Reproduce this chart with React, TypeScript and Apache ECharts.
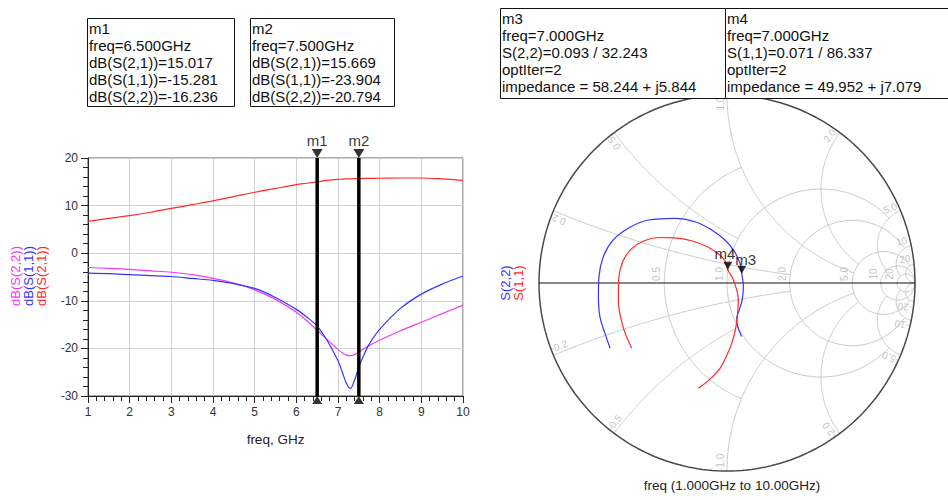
import React, { useEffect, useRef } from "react";
import * as echarts from "echarts";

const FONT = '"Liberation Sans", Arial, sans-serif';

// ---------- Left chart data (dB vs GHz) ----------
const freqGHz = [1, 1.5, 2, 2.5, 3, 3.5, 4, 4.5, 5, 5.5, 6, 6.25, 6.5, 6.75, 7, 7.1, 7.2, 7.3, 7.4, 7.5, 7.6, 7.75, 8, 8.5, 9, 9.5, 10];
const dbS21 = [6.7, 7.3, 7.9, 8.6, 9.4, 10.2, 11.0, 11.9, 12.8, 13.6, 14.4, 14.7, 15.0, 15.3, 15.5, 15.55, 15.6, 15.63, 15.65, 15.67, 15.7, 15.72, 15.75, 15.8, 15.8, 15.6, 15.3];
const dbS11 = [-4.2, -4.3, -4.5, -4.7, -4.9, -5.3, -5.7, -6.4, -7.4, -9.3, -11.8, -13.4, -15.3, -18.5, -22.6, -24.9, -27.3, -28.4, -26.6, -23.9, -21.8, -19.1, -16.0, -11.6, -8.6, -6.5, -4.8];
const dbS22 = [-3.0, -3.2, -3.4, -3.7, -4.0, -4.5, -5.3, -6.3, -7.7, -9.7, -12.4, -14.2, -16.2, -18.2, -20.2, -20.9, -21.4, -21.5, -21.3, -20.8, -20.2, -19.4, -18.3, -16.3, -14.5, -12.7, -10.9];
const markerFreqs = [6.5, 7.5];
const markerNames = ["m1", "m2"];
const yMin = -30;
const yMax = 20;

// ---------- Smith chart data (reflection coefficient, re / im) ----------
const s22Gamma = [
  [-0.622, -0.347], [-0.649, -0.268], [-0.676, -0.179], [-0.684, -0.073], [-0.681, 0.034],
  [-0.658, 0.14], [-0.605, 0.229], [-0.525, 0.291], [-0.419, 0.335], [-0.277, 0.344],
  [-0.17, 0.326], [-0.081, 0.282], [-0.011, 0.229], [0.034, 0.176], [0.069, 0.105],
  [0.0787, 0.0496], [0.087, -0.02], [0.081, -0.09], [0.065, -0.144], [0.052, -0.188],
  [0.057, -0.232], [0.078, -0.285],
];
const s11Gamma = [
  [-0.507, -0.347], [-0.553, -0.232], [-0.578, -0.09], [-0.576, 0.02], [-0.556, 0.11],
  [-0.51, 0.18], [-0.44, 0.225], [-0.36, 0.242], [-0.277, 0.24], [-0.18, 0.222],
  [-0.099, 0.19], [-0.04, 0.15], [-0.011, 0.118], [0.0045, 0.0709], [0.034, 0.016],
  [0.06, -0.09], [0.055, -0.18], [0.04, -0.27], [0.016, -0.345], [-0.037, -0.454],
  [-0.095, -0.515], [-0.152, -0.56],
];
const smithMarkerNames = ["m4", "m3"];
const smithMarkerMag = [0.071, 0.093];
const smithMarkerAngDeg = [86.337, 32.243];

// Smith grid definition
const smithR = [0.5, 1, 2, 5, 10, 20];
const smithRLimitX = [1, 5, 10, 20, Infinity, Infinity];
const smithRLabels = ["0.5", "1.0", "2.0", "5.0", "10", "20"];
const smithX = [0.2, 0.5, 1, 2, 5, 10, 20];
const smithXLimitR = [2, 1, 5, 5, 10, 20, Infinity];
const smithXLabels = ["0.2", "0.5", "1.0", "2.0", "5.0", "10", "20"];

// ---------- marker text boxes ----------
const boxM1 = ["m1", "freq=6.500GHz", "dB(S(2,1))=15.017", "dB(S(1,1))=-15.281", "dB(S(2,2))=-16.236"];
const boxM2 = ["m2", "freq=7.500GHz", "dB(S(2,1))=15.669", "dB(S(1,1))=-23.904", "dB(S(2,2))=-20.794"];
const boxM3 = ["m3", "freq=7.000GHz", "S(2,2)=0.093 / 32.243", "optIter=2", "impedance = 58.244 + j5.844"];
const boxM4 = ["m4", "freq=7.000GHz", "S(1,1)=0.071 / 86.337", "optIter=2", "impedance = 49.952 + j7.079"];

const RED = "#ff2a2a";
const BLUE = "#3434ff";
const MAGENTA = "#f03cf0";
const GRIDGRAY = "#c9c9c9";
const SMITH_R_PX = 188;

function rCirclePts(r: number, xMax: number) {
  const aMax = isFinite(xMax) ? Math.atan(xMax / (r + 1)) : Math.PI / 2;
  const n = 240;
  const pts: number[][] = [];
  for (let i = 0; i <= n; i++) {
    const a = -aMax + (2 * aMax * i) / n;
    const c = Math.cos(a), s = Math.sin(a);
    pts.push([1 - (2 * c * c) / (r + 1), (2 * c * s) / (r + 1)]);
  }
  return pts;
}

function xArcPts(x: number, rMax: number) {
  const a0 = Math.atan(x);
  const a1 = isFinite(rMax) ? Math.atan(x / (rMax + 1)) : 0;
  const n = 200;
  const pts: number[][] = [];
  for (let i = 0; i <= n; i++) {
    const a = a0 + ((a1 - a0) * i) / n;
    const c = Math.cos(a), s = Math.sin(a);
    pts.push([1 - (2 * s * c) / x, (2 * s * s) / x]);
  }
  return pts;
}

function box(x: number, y: number, w: number, h: number, lines: string[]) {
  return [
    { type: "rect", z: 100, shape: { x: x + 0.5, y: y + 0.5, width: w, height: h }, style: { fill: "#fff", stroke: "#111", lineWidth: 1 } },
    {
      type: "text", z: 101, x: x + 2, y: y + 1.5,
      style: { text: lines.join("\n"), fontSize: 15, fontFamily: FONT, fill: "#111", lineHeight: 17, align: "left", verticalAlign: "top" },
    },
  ];
}

function buildOption() {
  const series: any[] = [];

  // Left chart curves
  const curve = (name: string, vals: number[], color: string) => ({
    type: "line", name, xAxisIndex: 0, yAxisIndex: 0, symbol: "none", smooth: 0.3,
    data: freqGHz.map((f, i) => [f, vals[i]]), lineStyle: { color, width: 1.2 }, z: 3,
  });
  series.push(curve("dB(S(2,1))", dbS21, RED));
  series.push(curve("dB(S(2,2))", dbS22, MAGENTA));
  series.push(curve("dB(S(1,1))", dbS11, BLUE));

  // markers m1, m2
  markerFreqs.forEach((f, i) => {
    series.push({
      type: "line", xAxisIndex: 0, yAxisIndex: 0, symbol: "none", z: 5, clip: false,
      data: [[f, yMin], [f, yMax]], lineStyle: { color: "#000", width: 3.5 },
    });
    series.push({
      type: "scatter", xAxisIndex: 0, yAxisIndex: 0, z: 6, clip: false,
      symbol: "path://M0,0 L10,0 L5,9 Z", symbolSize: [11, 9], symbolOffset: [0, -4.5],
      itemStyle: { color: "#000" },
      label: { show: true, position: "top", distance: 1, formatter: markerNames[i], fontSize: 15, fontFamily: FONT, color: "#000" },
      data: [[f, yMax]],
    });
    series.push({
      type: "scatter", xAxisIndex: 0, yAxisIndex: 0, z: 6, clip: false,
      symbol: "triangle", symbolSize: [10, 8], symbolOffset: [0, 4],
      itemStyle: { color: "#000" }, data: [[f, yMin]],
    });
  });

  // Smith grid
  smithR.forEach((r, i) => {
    series.push({
      type: "line", xAxisIndex: 1, yAxisIndex: 1, symbol: "none", silent: true, z: 1, clip: false,
      data: rCirclePts(r, smithRLimitX[i]), lineStyle: { color: GRIDGRAY, width: 1 },
    });
  });
  smithX.forEach((x, i) => {
    [x, -x].forEach((xx) => {
      series.push({
        type: "line", xAxisIndex: 1, yAxisIndex: 1, symbol: "none", silent: true, z: 1, clip: false,
        data: xArcPts(xx, smithXLimitR[i]), lineStyle: { color: GRIDGRAY, width: 1 },
      });
    });
  });
  // outer circle and real axis
  series.push({
    type: "line", xAxisIndex: 1, yAxisIndex: 1, symbol: "none", silent: true, z: 2, clip: false,
    data: rCirclePts(0, Infinity), lineStyle: { color: "#4a4a4a", width: 1.5 },
  });
  series.push({
    type: "line", xAxisIndex: 1, yAxisIndex: 1, symbol: "none", silent: true, z: 2, clip: false,
    data: [[-1, 0], [1, 0]], lineStyle: { color: "#111", width: 1.2 },
  });

  // Smith grid labels
  const labelData: any[] = [];
  smithR.forEach((r, i) => {
    const gx = (r - 1) / (r + 1);
    labelData.push({ value: [gx - 7.5 / SMITH_R_PX, 9 / SMITH_R_PX], label: { formatter: smithRLabels[i], rotate: 90 } });
  });
  smithX.forEach((x, i) => {
    [1, -1].forEach((sg) => {
      const xx = x * sg;
      const th = (Math.atan2(2 * xx, xx * xx - 1) * 180) / Math.PI;
      const phi = th + 2 * sg;
      const rad = 0.955;
      const gx = rad * Math.cos((phi * Math.PI) / 180);
      const gy = rad * Math.sin((phi * Math.PI) / 180);
      const rot = sg > 0 ? th : th + 180;
      labelData.push({
        value: [gx, gy],
        label: { formatter: (sg > 0 ? "" : "-") + smithXLabels[i], rotate: rot },
      });
    });
  });
  series.push({
    type: "scatter", xAxisIndex: 1, yAxisIndex: 1, symbolSize: 0, silent: true, z: 3, clip: false,
    label: { show: true, position: "inside", fontSize: 10, fontFamily: FONT, color: "#b4b4b4" },
    data: labelData,
  });

  // Smith curves
  series.push({
    type: "line", name: "S(2,2)", xAxisIndex: 1, yAxisIndex: 1, symbol: "none", smooth: 0.4, z: 4,
    data: s22Gamma, lineStyle: { color: BLUE, width: 1.2 },
  });
  series.push({
    type: "line", name: "S(1,1)", xAxisIndex: 1, yAxisIndex: 1, symbol: "none", smooth: 0.4, z: 4,
    data: s11Gamma, lineStyle: { color: RED, width: 1.2 },
  });

  // Smith markers
  const smithLabelOffsets = [[-3, 0], [4, 2]];
  series.push({
    type: "scatter", xAxisIndex: 1, yAxisIndex: 1, z: 6, clip: false,
    symbol: "path://M0,0 L10,0 L5,9 Z", symbolSize: [9, 8], symbolOffset: [0, -4],
    itemStyle: { color: "#000" },
    label: { show: true, position: "top", distance: 1, fontSize: 15, fontFamily: FONT, color: "#000" },
    data: smithMarkerMag.map((m, i) => {
      const a = (smithMarkerAngDeg[i] * Math.PI) / 180;
      return {
        value: [m * Math.cos(a), m * Math.sin(a)],
        label: { formatter: smithMarkerNames[i], offset: smithLabelOffsets[i] },
      };
    }),
  });

  const graphic: any[] = [
    ...box(87, 18, 147, 88, boxM1),
    ...box(250, 18, 144, 88, boxM2),
    ...box(500, 8, 225, 90, boxM3),
    ...box(725, 8, 240, 90, boxM4),
    { type: "text", x: 15, y: 276, rotation: Math.PI / 2, style: { text: "dB(S(2,2))", fontSize: 13, fontFamily: FONT, fill: MAGENTA, align: "center", verticalAlign: "middle" } },
    { type: "text", x: 28, y: 276, rotation: Math.PI / 2, style: { text: "dB(S(1,1))", fontSize: 13, fontFamily: FONT, fill: BLUE, align: "center", verticalAlign: "middle" } },
    { type: "text", x: 41, y: 276, rotation: Math.PI / 2, style: { text: "dB(S(2,1))", fontSize: 13, fontFamily: FONT, fill: RED, align: "center", verticalAlign: "middle" } },
    { type: "text", x: 505, y: 283, rotation: Math.PI / 2, style: { text: "S(2,2)", fontSize: 13, fontFamily: FONT, fill: BLUE, align: "center", verticalAlign: "middle" } },
    { type: "text", x: 518, y: 283, rotation: Math.PI / 2, style: { text: "S(1,1)", fontSize: 13, fontFamily: FONT, fill: RED, align: "center", verticalAlign: "middle" } },
    { type: "text", x: 732, y: 485, style: { text: "freq (1.000GHz to 10.00GHz)", fontSize: 13.5, fontFamily: FONT, fill: "#222", align: "center", verticalAlign: "middle" } },
  ];

  return {
    animation: false,
    backgroundColor: "#fff",
    textStyle: { fontFamily: FONT },
    grid: [
      { left: 88, top: 158, width: 375, height: 238, show: true, borderColor: "#555", borderWidth: 1 },
      { left: 539, top: 95, width: 376, height: 376, show: false },
    ],
    xAxis: [
      {
        gridIndex: 0, type: "value", min: 1, max: 10, interval: 1,
        name: "freq, GHz", nameLocation: "middle", nameGap: 36,
        nameTextStyle: { fontSize: 13.5, color: "#222", fontFamily: FONT },
        axisLine: { show: true, onZero: false, lineStyle: { color: "#222" } },
        axisTick: { show: true, length: 7, lineStyle: { color: "#222" } },
        minorTick: { show: true, splitNumber: 5, length: 5, lineStyle: { color: "#222" } },
        axisLabel: { fontSize: 12, color: "#333", margin: 10, fontFamily: FONT },
        splitLine: { show: true, lineStyle: { color: "#d2d2d2" } },
      },
      { gridIndex: 1, type: "value", min: -1, max: 1, show: false },
    ],
    yAxis: [
      {
        gridIndex: 0, type: "value", min: yMin, max: yMax, interval: 10,
        axisLine: { show: true, onZero: false, lineStyle: { color: "#222" } },
        axisTick: { show: true, length: 7, lineStyle: { color: "#222" } },
        minorTick: { show: true, splitNumber: 5, length: 5, lineStyle: { color: "#222" } },
        axisLabel: { fontSize: 12, color: "#333", margin: 10, fontFamily: FONT },
        splitLine: { show: true, lineStyle: { color: "#d2d2d2" } },
      },
      { gridIndex: 1, type: "value", min: -1, max: 1, show: false },
    ],
    series,
    graphic,
  };
}

export default function App() {
  const ref = useRef<HTMLDivElement>(null);
  useEffect(() => {
    if (!ref.current) return;
    const chart = echarts.init(ref.current, undefined, { renderer: "svg" });
    chart.setOption(buildOption() as any);
    return () => chart.dispose();
  }, []);
  return <div ref={ref} style={{ position: "fixed", left: 0, top: 0, width: 948, height: 500, background: "#fff" }} />;
}
